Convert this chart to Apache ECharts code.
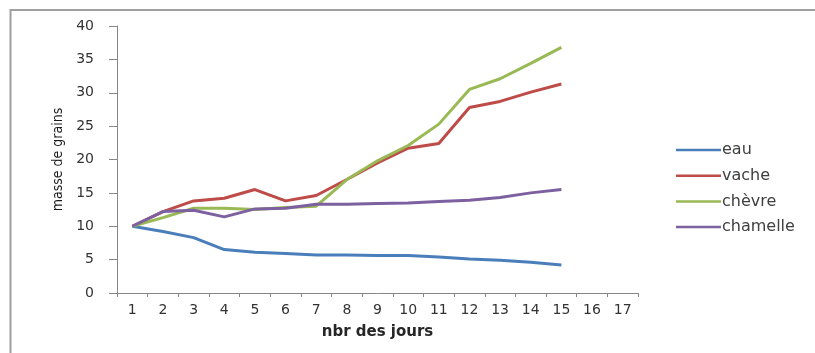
<!DOCTYPE html>
<html>
<head>
<meta charset="utf-8">
<script src="https://cdn.jsdelivr.net/npm/echarts@6/dist/echarts.min.js"></script>
<style>
html,body{margin:0;padding:0;background:#fff;}
#chart{width:815px;height:353px;}
</style>
</head>
<body>
<div id="chart"></div>
<script>
const categories = ['1','2','3','4','5','6','7','8','9','10','11','12','13','14','15','16','17'];
const eau      = [10, 9.2, 8.3, 6.5, 6.1, 5.9, 5.7, 5.7, 5.6, 5.6, 5.4, 5.1, 4.9, 4.6, 4.2];
const vache    = [10, 12.2, 13.8, 14.2, 15.5, 13.8, 14.6, 17.0, 19.5, 21.7, 22.4, 27.8, 28.7, 30.1, 31.3];
const chevre   = [10, 11.3, 12.7, 12.7, 12.5, 12.8, 13.0, 17.0, 19.8, 22.1, 25.3, 30.5, 32.1, 34.4, 36.8];
const chamelle = [10, 12.2, 12.4, 11.4, 12.6, 12.7, 13.3, 13.3, 13.4, 13.5, 13.7, 13.9, 14.3, 15.0, 15.5];
const seriesNames = ['eau', 'vache', 'chèvre', 'chamelle'];
const seriesData = [eau, vache, chevre, chamelle];
const colors = ['#4A7EBB', '#BE4B48', '#98B954', '#7D60A0'];

const chart = echarts.init(document.getElementById('chart'));
chart.setOption({
  backgroundColor: '#fff',
  animation: false,
  graphic: [{
    type: 'rect',
    shape: { x: 10.5, y: 10, width: 900, height: 400 },
    style: { fill: 'none', stroke: '#a0a0a0', lineWidth: 2 },
    silent: true
  }],
  grid: { left: 117, right: 177, top: 26, bottom: 60 },
  legend: {
    orient: 'vertical',
    left: 671,
    top: 137,
    icon: 'rect',
    itemWidth: 45,
    itemHeight: 2.5,
    itemGap: 9.7,
    textStyle: { fontFamily: 'DejaVu Sans', fontSize: 16, color: '#404040', lineHeight: 16, padding: [0,0,0,-4] },
    data: seriesNames
  },
  xAxis: {
    type: 'category',
    data: categories,
    boundaryGap: true,
    name: 'nbr des jours',
    nameLocation: 'middle',
    nameGap: 32,
    nameTextStyle: { fontFamily: 'DejaVu Sans', fontWeight: 'bold', fontSize: 15, color: '#262626' },
    axisLine: { lineStyle: { color: '#868686', width: 1 } },
    axisTick: { show: true, length: 4, alignWithLabel: false, interval: 0, lineStyle: { color: '#868686' } },
    axisLabel: { interval: 0, margin: 10, fontFamily: 'DejaVu Sans', fontSize: 14, color: '#333' },
    splitLine: { show: false }
  },
  yAxis: {
    type: 'value',
    min: 0, max: 40, interval: 5,
    name: 'masse de grains',
    nameLocation: 'middle',
    nameGap: 52,
    nameRotate: 90,
    nameTextStyle: { fontFamily: 'DejaVu Sans Condensed', fontSize: 14, color: '#1a1a1a' },
    axisLine: { show: true, lineStyle: { color: '#868686', width: 1 } },
    axisTick: { show: true, length: 8, lineStyle: { color: '#868686' } },
    axisLabel: { margin: 23, fontFamily: 'DejaVu Sans', fontSize: 14, color: '#333' },
    splitLine: { show: false }
  },
  series: seriesNames.map((n, i) => ({
    name: n,
    type: 'line',
    data: seriesData[i],
    symbol: 'none',
    lineStyle: { color: colors[i], width: 3 },
    itemStyle: { color: colors[i] }
  }))
});
</script>
</body>
</html>
